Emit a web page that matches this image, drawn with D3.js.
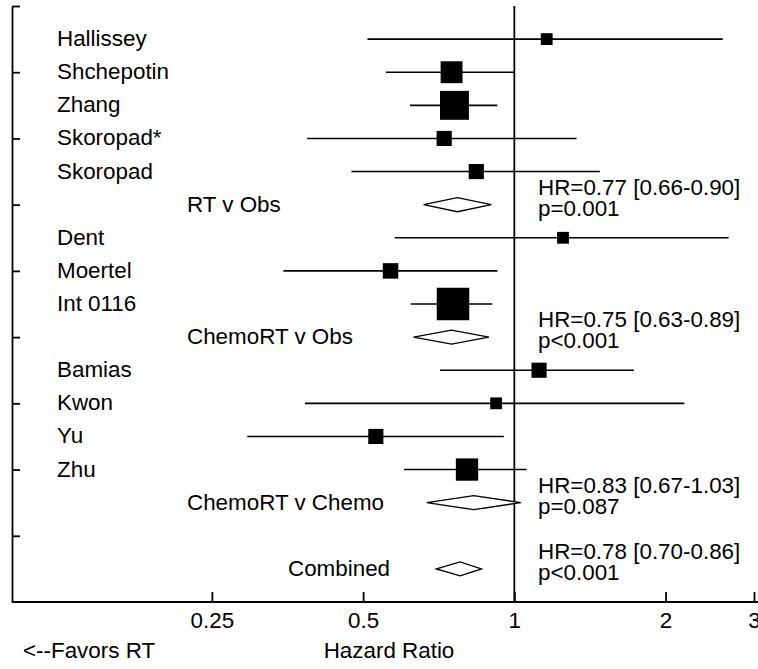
<!DOCTYPE html>
<html>
<head>
<meta charset="utf-8">
<script src="https://cdn.jsdelivr.net/npm/d3@7"></script>
<style>
  html, body { margin: 0; padding: 0; background: #fff; }
  svg { display: block; }
  text { font-family: "Liberation Sans", Arial, sans-serif; font-size: 22.4px; fill: #000; }
</style>
</head>
<body>
<svg id="chart" width="758" height="669"></svg>
<script>
// ---- Data ----
const studies    = ["Hallissey","Shchepotin","Zhang","Skoropad*","Skoropad","Dent","Moertel","Int 0116","Bamias","Kwon","Yu","Zhu"];
const studyGroup = [0,0,0,0,0,1,1,1,2,2,2,2];
const studyHR    = [1.16,0.75,0.76,0.725,0.84,1.25,0.567,0.755,1.12,0.92,0.53,0.805];
const studyLo    = [0.51,0.555,0.62,0.387,0.474,0.578,0.347,0.622,0.711,0.383,0.294,0.603];
const studyHi    = [2.60,1.00,0.925,1.33,1.48,2.67,0.925,0.904,1.73,2.18,0.953,1.058];
const studyWeight= [1.4,4.8,8.4,2.3,2.3,1.4,2.4,10.6,2.3,1.4,2.3,5.0];

const summaryLabels = ["RT v Obs","ChemoRT v Obs","ChemoRT v Chemo","Combined"];
const summaryHR  = [0.77,0.75,0.83,0.78];
const summaryLo  = [0.66,0.63,0.67,0.70];
const summaryHi  = [0.90,0.89,1.03,0.86];
const summaryP   = ["p=0.001","p<0.001","p=0.087","p<0.001"];

const xTicks = [0.25,0.5,1,2,3];
const xTickLabels = ["0.25","0.5","1","2","3"];
const xDomain = [0.1,3];
const xTitle = "Hazard Ratio";
const favorsLabel = "<--Favors RT";

(function () {
// ---- Build row layout ----
const rows = [];
let r = 1;
for (let g = 0; g < 3; g++) {
  studies.forEach((s,i) => { if (studyGroup[i] === g) rows.push({type:"study", idx:i, row:r++}); });
  rows.push({type:"summary", idx:g, row:r++});
}
r++; // blank row
rows.push({type:"summary", idx:3, row:r++});
const nRows = r; // 18

// ---- Layout ----
const W = 758;
const mLeft = 12, mTop = 6, mBottom = 602, mRight = 754;
const svg = d3.select("#chart");

const x = d3.scaleLog().domain(xDomain).range([mLeft, mRight]);
const y = d3.scaleLinear().domain([0, nRows]).range([mTop, mBottom]);
const size = d3.scaleSqrt().domain([0, d3.max(studyWeight)]).range([0, 32.5]);

// Left axis (ticks inward)
const yAxis = d3.axisLeft(y)
  .tickValues(d3.range(0, nRows - 1, 2))
  .tickSizeInner(-8).tickSizeOuter(0).tickFormat("");
const gy = svg.append("g").attr("transform", `translate(${mLeft},0)`).call(yAxis);
gy.selectAll("line, path").attr("stroke", "#000").attr("stroke-width", 1.8);

// Bottom axis (ticks inward)
const xAxis = d3.axisBottom(x)
  .tickValues(xTicks)
  .tickFormat((d,i) => xTickLabels[i])
  .tickSizeInner(-10).tickSizeOuter(0).tickPadding(10);
const gx = svg.append("g").attr("transform", `translate(0,${mBottom})`).call(xAxis);
gx.select(".domain").remove();
gx.selectAll("line").attr("stroke", "#000").attr("stroke-width", 1.8);
gx.selectAll("text").attr("font-size", 22.4).attr("font-family", '"Liberation Sans", Arial, sans-serif').attr("fill", "#000");
gx.append("line").attr("x1", mLeft).attr("x2", W).attr("y1", 0).attr("y2", 0)
  .attr("stroke", "#000").attr("stroke-width", 1.8);

// Reference line at HR = 1
svg.append("line")
  .attr("x1", x(1)).attr("x2", x(1)).attr("y1", mTop).attr("y2", mBottom)
  .attr("stroke", "#000").attr("stroke-width", 1.8);

// Studies
const studyRows = rows.filter(d => d.type === "study");
const sg = svg.append("g");
sg.selectAll("line.ci").data(studyRows).join("line")
  .attr("class","ci")
  .attr("x1", d => x(studyLo[d.idx])).attr("x2", d => x(studyHi[d.idx]))
  .attr("y1", d => y(d.row)).attr("y2", d => y(d.row))
  .attr("stroke", "#000").attr("stroke-width", 1.6);
sg.selectAll("rect").data(studyRows).join("rect")
  .attr("x", d => x(studyHR[d.idx]) - size(studyWeight[d.idx]) / 2)
  .attr("y", d => y(d.row) - size(studyWeight[d.idx]) / 2)
  .attr("width", d => size(studyWeight[d.idx]))
  .attr("height", d => size(studyWeight[d.idx]))
  .attr("fill", "#000");
sg.selectAll("text").data(studyRows).join("text")
  .attr("x", 57).attr("y", d => y(d.row) + 7)
  .text(d => studies[d.idx]);

// Summaries
const sumRows = rows.filter(d => d.type === "summary");
const labelX = i => (i === 3 ? 288 : 187);
const dh = 7;
const smg = svg.append("g");
smg.selectAll("path").data(sumRows).join("path")
  .attr("d", d => {
    const cy = y(d.row);
    return `M${x(summaryLo[d.idx])},${cy}L${x(summaryHR[d.idx])},${cy - dh}L${x(summaryHi[d.idx])},${cy}L${x(summaryHR[d.idx])},${cy + dh}Z`;
  })
  .attr("fill", "#fff").attr("stroke", "#000").attr("stroke-width", 1.4);
smg.selectAll("text.lab").data(sumRows).join("text")
  .attr("class","lab")
  .attr("x", d => labelX(d.idx)).attr("y", d => y(d.row) + 7)
  .text(d => summaryLabels[d.idx]);
smg.selectAll("text.hr").data(sumRows).join("text")
  .attr("class","hr")
  .attr("x", 538).attr("y", d => y(d.row) - 10)
  .text(d => `HR=${summaryHR[d.idx].toFixed(2)} [${summaryLo[d.idx].toFixed(2)}-${summaryHi[d.idx].toFixed(2)}]`);
smg.selectAll("text.p").data(sumRows).join("text")
  .attr("class","p")
  .attr("x", 538).attr("y", d => y(d.row) + 11)
  .text(d => summaryP[d.idx]);

// Bottom labels
svg.append("text").attr("x", 23).attr("y", 658).text(favorsLabel);
svg.append("text").attr("x", 389).attr("y", 658).attr("text-anchor", "middle").text(xTitle);
})();
</script>
</body>
</html>
